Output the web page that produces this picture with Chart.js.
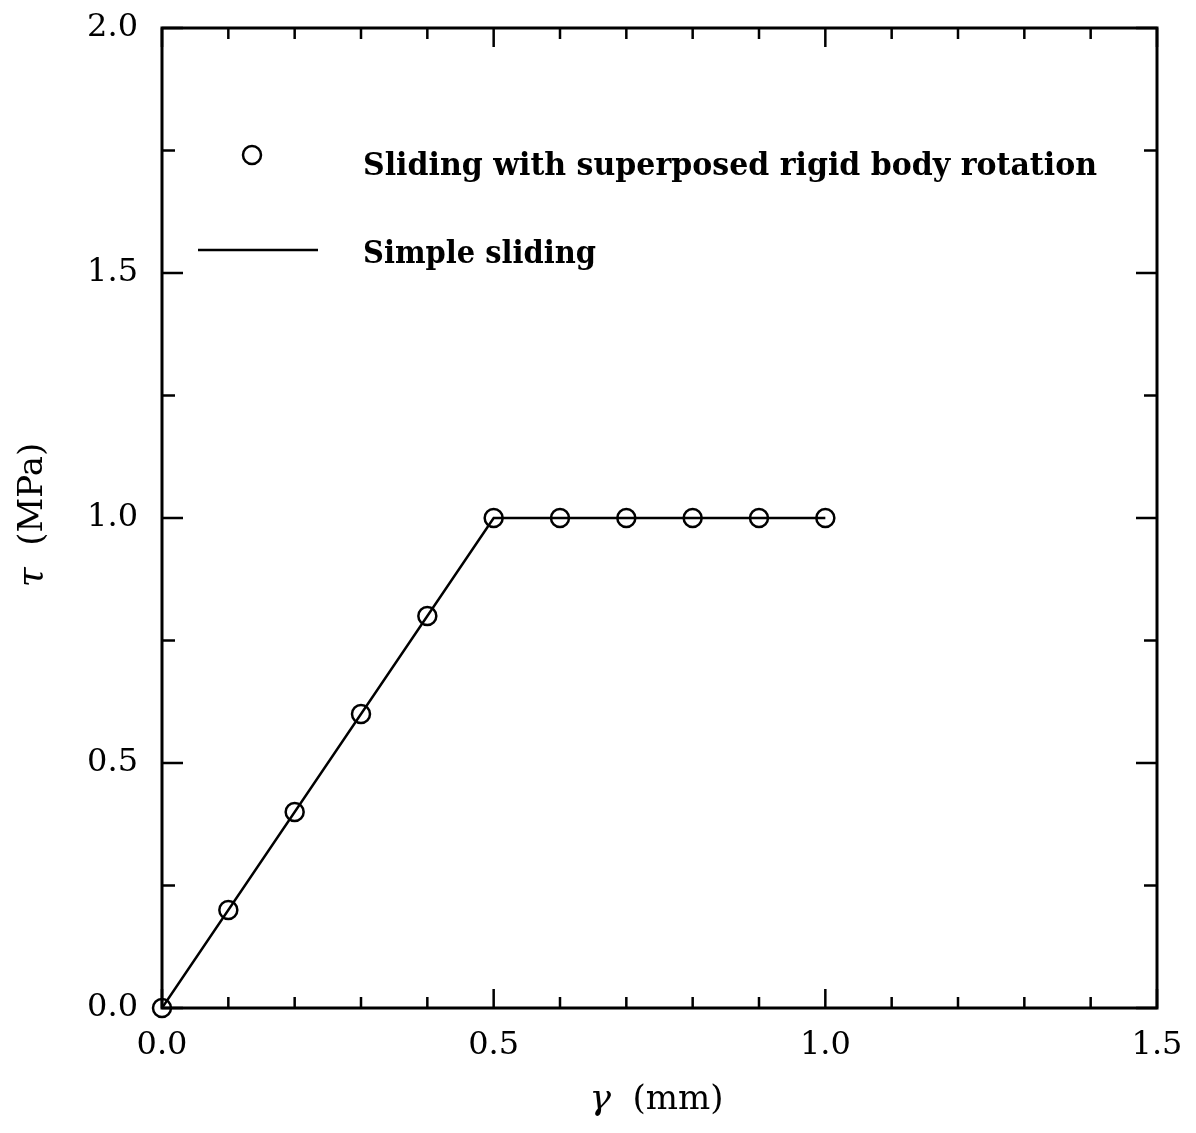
<!DOCTYPE html>
<html>
<head>
<meta charset="utf-8">
<script src="https://cdn.jsdelivr.net/npm/chart.js@4.4.1/dist/chart.umd.min.js"></script>
<style>
  body { margin: 0; background: #fff; }
  #chartCanvas { display: block; }
</style>
</head>
<body>
<canvas id="chartCanvas" width="1196" height="1133"></canvas>
<script>
// data
const rotationX = [0.0, 0.1, 0.2, 0.3, 0.4, 0.5, 0.6, 0.7, 0.8, 0.9, 1.0];
const rotationY = [0.0, 0.2, 0.4, 0.6, 0.8, 1.0, 1.0, 1.0, 1.0, 1.0, 1.0];
const slidingX = [0.0, 0.5, 1.0];
const slidingY = [0.0, 1.0, 1.0];

const xTicks = { min: 0, max: 1.5, step: 0.1, labelEvery: 0.5 };
const yTicks = { min: 0, max: 2.0, step: 0.25, labelEvery: 0.5 };

const legendLabels = ['Sliding with superposed rigid body rotation', 'Simple sliding'];
const xTitle = ['\u03b3', '  (mm)'];
const yTitle = ['\u03c4', '  (MPa)'];

const tickFont = '"DejaVu Serif", serif';

function isMajor(v, every) {
  const r = v / every;
  return Math.abs(r - Math.round(r)) < 1e-6;
}

function toPoints(xs, ys) {
  return xs.map((x, i) => ({ x: x, y: ys[i] }));
}

// keep the plot box where the layout padding puts it
function noEdgePadding(scale) {
  scale.paddingTop = 0;
  scale.paddingBottom = 0;
  scale.paddingLeft = 0;
  scale.paddingRight = 0;
}

// inward ticks on all four sides, box, titles and legend
const framePlugin = {
  id: 'frame',
  afterDraw(chart) {
    const ctx = chart.ctx;
    const a = chart.chartArea;
    const xs = chart.scales.x;
    const ys = chart.scales.y;
    ctx.save();
    ctx.strokeStyle = '#000';
    ctx.lineWidth = 3;
    ctx.strokeRect(a.left, a.top, a.right - a.left, a.bottom - a.top);

    ctx.lineWidth = 2.5;
    ctx.beginPath();
    xs.ticks.forEach(t => {
      const px = xs.getPixelForValue(t.value);
      const len = isMajor(t.value, xTicks.labelEvery) ? 19 : 11;
      ctx.moveTo(px, a.bottom); ctx.lineTo(px, a.bottom - len);
      ctx.moveTo(px, a.top); ctx.lineTo(px, a.top + len);
    });
    ys.ticks.forEach(t => {
      const py = ys.getPixelForValue(t.value);
      const len = isMajor(t.value, yTicks.labelEvery) ? 21 : 13;
      ctx.moveTo(a.left, py); ctx.lineTo(a.left + len, py);
      ctx.moveTo(a.right, py); ctx.lineTo(a.right - len, py);
    });
    ctx.stroke();

    // axis titles (greek letter italic)
    ctx.fillStyle = '#000';
    ctx.textBaseline = 'middle';
    function drawTitle(parts, cx, cy, rot) {
      ctx.save();
      ctx.translate(cx, cy);
      ctx.rotate(rot);
      ctx.font = 'italic 36px ' + tickFont;
      const w0 = ctx.measureText(parts[0]).width;
      ctx.font = '34px ' + tickFont;
      const w1 = ctx.measureText(parts[1]).width;
      let x = -(w0 + w1) / 2;
      ctx.textAlign = 'left';
      ctx.font = 'italic 36px ' + tickFont;
      ctx.fillText(parts[0], x, 0);
      ctx.font = '34px ' + tickFont;
      ctx.fillText(parts[1], x + w0, 0);
      ctx.restore();
    }
    drawTitle(xTitle, (a.left + a.right) / 2 - 3, 1100, 0);
    drawTitle(yTitle, 33, (a.top + a.bottom) / 2 - 3, -Math.PI / 2);

    // legend
    const ds0 = chart.data.datasets[0];
    const ds1 = chart.data.datasets[1];
    ctx.lineWidth = ds0.pointBorderWidth;
    ctx.strokeStyle = ds0.borderColor;
    ctx.beginPath();
    ctx.arc(a.left + 90, a.top + 127, ds0.pointRadius, 0, Math.PI * 2);
    ctx.stroke();
    ctx.lineWidth = ds1.borderWidth;
    ctx.strokeStyle = ds1.borderColor;
    ctx.beginPath();
    ctx.moveTo(a.left + 36, a.top + 222);
    ctx.lineTo(a.left + 156, a.top + 222);
    ctx.stroke();

    ctx.font = 'bold 31px ' + tickFont;
    ctx.textAlign = 'left';
    ctx.textBaseline = 'alphabetic';
    function fitText(txt, x, y, w) {
      const m = ctx.measureText(txt).width;
      ctx.save();
      ctx.translate(x, y);
      ctx.scale(w / m, 1);
      ctx.fillText(txt, 0, 0);
      ctx.restore();
    }
    fitText(legendLabels[0], a.left + 201, a.top + 147, 734);
    fitText(legendLabels[1], a.left + 201, a.top + 235, 233);
    ctx.restore();
  }
};

new Chart(document.getElementById('chartCanvas'), {
  type: 'scatter',
  data: {
    datasets: [{
      label: legendLabels[0],
      data: toPoints(rotationX, rotationY),
      showLine: false,
      pointStyle: 'circle',
      pointRadius: 9,
      pointBorderWidth: 2.5,
      borderWidth: 2.5,
      borderColor: '#000',
      pointBackgroundColor: 'rgba(0,0,0,0)',
      clip: false
    }, {
      label: legendLabels[1],
      data: toPoints(slidingX, slidingY),
      showLine: true,
      pointRadius: 0,
      borderWidth: 2.5,
      borderColor: '#000',
      tension: 0
    }]
  },
  options: {
    responsive: false,
    animation: false,
    devicePixelRatio: 1,
    layout: { padding: { left: 0, top: 28, right: 39, bottom: 0 } },
    plugins: {
      legend: { display: false },
      tooltip: { enabled: false }
    },
    scales: {
      x: {
        type: 'linear',
        min: xTicks.min,
        max: xTicks.max,
        border: { display: false },
        grid: { display: false, drawTicks: false },
        afterFit(scale) { scale.height = 125; noEdgePadding(scale); },
        ticks: {
          stepSize: xTicks.step,
          autoSkip: false,
          maxRotation: 0,
          padding: 18,
          color: '#000',
          font: { family: tickFont, size: 32 },
          callback: v => isMajor(v, xTicks.labelEvery) ? v.toFixed(1) : ''
        }
      },
      y: {
        type: 'linear',
        min: yTicks.min,
        max: yTicks.max,
        border: { display: false },
        grid: { display: false, drawTicks: false },
        afterFit(scale) { scale.width = 162; noEdgePadding(scale); },
        ticks: {
          stepSize: yTicks.step,
          autoSkip: false,
          padding: 24,
          color: '#000',
          font: { family: tickFont, size: 32 },
          callback: v => isMajor(v, yTicks.labelEvery) ? v.toFixed(1) : ''
        }
      }
    }
  },
  plugins: [framePlugin]
});
</script>
</body>
</html>
